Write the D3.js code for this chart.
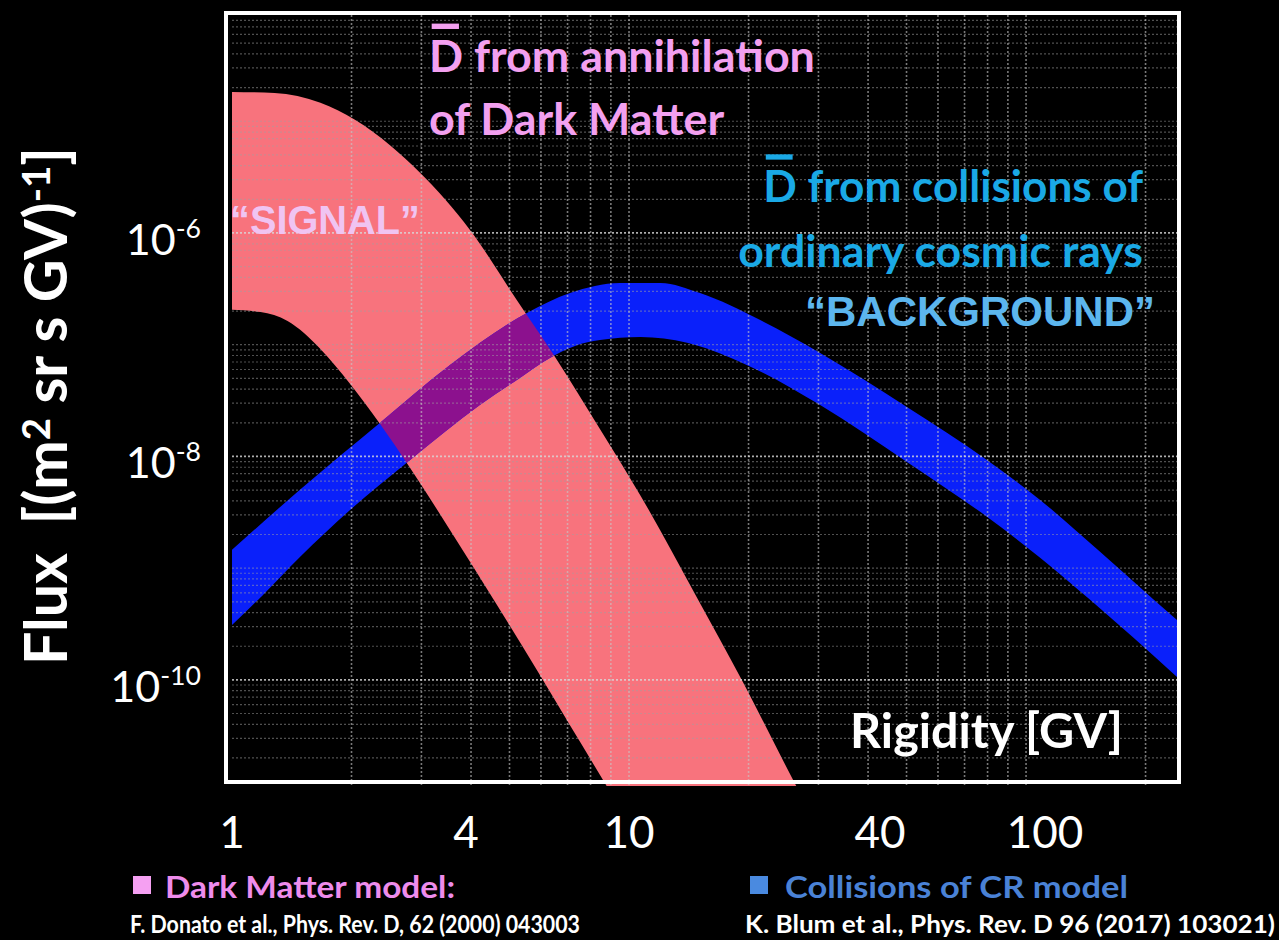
<!DOCTYPE html>
<html><head><meta charset="utf-8">
<script src="https://cdn.jsdelivr.net/npm/d3@7"></script>
<style>
html,body{margin:0;padding:0;background:#000;}
svg{display:block;}
</style></head><body>
<svg id="chart" width="1279" height="940"></svg>
<script>
// ---------------- DATA ----------------
// Dark Matter band (signal) – upper and lower edges
const dmUpperRigidity = [1, 1.28, 1.67, 2.04, 2.5, 2.98, 3.98, 5.22, 6.44, 8.6, 10.7, 14.8, 19.4, 25.9, 32.1];
const dmUpperFlux     = [1.83e-5, 1.79e-5, 1.46e-5, 1.03e-5, 6.1e-6, 3.44e-6, 1.06e-6, 2.5e-7, 8.26e-8, 1.59e-8, 4.43e-9, 5.53e-10, 9.4e-11, 1.27e-11, 3.0e-12];
const dmLowerRigidity = [1, 1.18, 1.38, 1.67, 1.98, 2.36, 2.81, 3.54, 4.65, 5.87, 7.10, 8.6, 9.22];
const dmLowerFlux     = [2.05e-7, 1.96e-7, 1.63e-7, 9.16e-8, 4.50e-8, 1.95e-8, 7.89e-9, 2.20e-9, 4.69e-10, 1.21e-10, 3.92e-11, 1.27e-11, 8.4e-12];
// Cosmic-ray collisions band (background)
const crUpperRigidity = [1, 1.48, 2.36, 3.54, 5.53, 7.1, 9.49, 12.0, 15.1, 21.4, 30.3, 50.1, 79.7, 108.5, 153.6, 208.8, 240];
const crUpperFlux     = [1.46e-9, 5.0e-9, 2.0e-8, 6.59e-8, 1.92e-7, 2.90e-7, 3.57e-7, 3.57e-7, 2.90e-7, 1.66e-7, 8.44e-8, 2.77e-8, 9.3e-9, 4.08e-9, 1.40e-9, 5.3e-10, 3.44e-10];
const crLowerRigidity = [1, 1.197, 1.483, 1.983, 2.81, 4.21, 5.31, 6.32, 7.31, 8.45, 10.7, 14.0, 19.05, 30.3, 50.1, 79.7, 108.5, 145, 240];
const crLowerFlux     = [3.10e-10, 5.76e-10, 1.26e-9, 3.32e-9, 9.3e-9, 2.89e-8, 5.04e-8, 7.61e-8, 9.75e-8, 1.10e-7, 1.17e-7, 1.04e-7, 7.01e-8, 2.89e-8, 8.93e-9, 2.88e-9, 1.24e-9, 5.2e-10, 1.06e-10];

const xTickValues = [1, 4, 10, 40, 100];
const xTickLabels = ["1", "4", "10", "40", "100"];
const yTickValues = [1e-6, 1e-8, 1e-10];
const yTickExponents = ["-6", "-8", "-10"];
const xGridValues = [2,3,4,5,6,7,8,9,10,20,30,40,50,60,70,80,90,100,200];
const yDecades = [-12,-11,-10,-9,-8,-7,-6,-5,-4];
const yMajorGrid = [1e-6, 1e-8, 1e-10];

const xDomain = [1, 240];
const yDomain = [1.27e-11, 8.93e-5];

// ---------------- LAYOUT ----------------
const svg = d3.select("#chart");
const L = 232, R = 1177, T = 15, B = 780;
const xLabelNudge = [0, -5, 0, 12, 19];
const x = d3.scaleLog().domain(xDomain).range([L, R]);
const y = d3.scaleLog().domain(yDomain).range([B, T]);

svg.append("rect").attr("width",1279).attr("height",940).attr("fill","#000");

const defs = svg.append("defs");
defs.append("clipPath").attr("id","plotClip").append("rect")
  .attr("x",L).attr("y",T).attr("width",R-L).attr("height",B-T+6);

const line = d3.line().x(d=>x(d[0])).y(d=>y(d[1])).curve(d3.curveMonotoneX);
function bandPath(ur, uf, lr, lf){
  const up = ur.map((r,i)=>[r,uf[i]]);
  const lo = lr.map((r,i)=>[r,lf[i]]).reverse();
  return line(up) + line(lo).replace(/^M/,"L") + "Z";
}
const dmPath = bandPath(dmUpperRigidity, dmUpperFlux, dmLowerRigidity, dmLowerFlux);
const crPath = bandPath(crUpperRigidity, crUpperFlux, crLowerRigidity, crLowerFlux);

defs.append("clipPath").attr("id","dmClip").append("path").attr("d", dmPath);

const plot = svg.append("g").attr("clip-path","url(#plotClip)");
plot.append("path").attr("d", dmPath).attr("fill","#f8737d");
plot.append("path").attr("d", crPath).attr("fill","#0a20fa");
plot.append("g").attr("clip-path","url(#dmClip)")
  .append("path").attr("d", crPath).attr("fill","#8c118e");

// grid
const grid = plot.append("g");
const yMinor = [];
yDecades.forEach(e=>{ for(let m=1;m<=9;m++){ const v=m*Math.pow(10,e); if(v>=yDomain[0]&&v<=yDomain[1]) yMinor.push(v);} });
grid.selectAll(".hminor").data(yMinor.filter(v=>!yMajorGrid.some(m=>Math.abs(m-v)/m<1e-6))).join("line")
  .attr("x1",L).attr("x2",R).attr("y1",d=>y(d)).attr("y2",d=>y(d))
  .attr("stroke","#a0a0a0").attr("stroke-opacity",0.5).attr("stroke-width",1.2).attr("stroke-dasharray","2,2");
grid.selectAll(".vgrid").data(xGridValues).join("line")
  .attr("x1",d=>x(d)).attr("x2",d=>x(d)).attr("y1",T).attr("y2",B+6)
  .attr("stroke","#c8c8c8").attr("stroke-opacity",0.6).attr("stroke-width",1.6).attr("stroke-dasharray","2,2");
grid.selectAll(".hmajor").data(yMajorGrid).join("line")
  .attr("x1",L-12).attr("x2",R).attr("y1",d=>y(d)).attr("y2",d=>y(d))
  .attr("stroke","#d8d8d8").attr("stroke-opacity",0.8).attr("stroke-width",1.8).attr("stroke-dasharray","2,2");

// frame
svg.append("rect").attr("x",L-6).attr("y",T-2).attr("width",R-L+8).attr("height",B-T+4)
  .attr("fill","none").attr("stroke","#fff").attr("stroke-width",4);

// helpers
function fit(sel, width){
  const w = sel.node().getComputedTextLength();
  const fs = parseFloat(sel.attr("font-size"));
  sel.attr("font-size", fs*width/w);
  return sel;
}
function squeeze(sel, width){
  sel.attr("textLength", width).attr("lengthAdjust","spacingAndGlyphs");
  return sel;
}
const F = "Lato, 'Open Sans', sans-serif";

// x tick labels
svg.append("g").selectAll("text").data(xTickValues).join("text")
  .attr("x",(d,i)=>x(d)+xLabelNudge[i]).attr("y",848).attr("text-anchor","middle")
  .attr("font-family",F).attr("font-size",44).attr("fill","#fff")
  .text((d,i)=>xTickLabels[i]);

// y tick labels
const yt = svg.append("g").selectAll("text").data(yTickValues).join("text")
  .attr("x",201).attr("y",d=>y(d)+22).attr("text-anchor","end")
  .attr("font-family",F).attr("font-size",43).attr("fill","#fff");
yt.append("tspan").text("10");
yt.append("tspan").attr("dy",-17).attr("font-size","62%").text((d,i)=>yTickExponents[i]);

// y axis title
const yTitle = svg.append("text").attr("transform","translate(67,406) rotate(-90)")
  .attr("text-anchor","middle").attr("font-family",F).attr("font-weight","bold")
  .attr("font-size",46).attr("fill","#fff");
yTitle.append("tspan").text("Flux\u00a0\u00a0[(m");
yTitle.append("tspan").attr("dy",-17).attr("font-size","65%").text("2");
yTitle.append("tspan").attr("dy",17).text(" sr s GV)");
yTitle.append("tspan").attr("dy",-17).attr("font-size","65%").text("-1");
yTitle.append("tspan").attr("dy",17).text("]");
fit(yTitle, 518);

// annotation with overbar on D
function barText(xx, yy, str, color, width, anchor){
  const t = svg.append("text").attr("x",xx).attr("y",yy).attr("text-anchor",anchor||"start")
    .attr("font-family",F).attr("font-weight","bold").attr("font-size",40).attr("fill",color).text(str);
  fit(t, width);
  const ext = t.node().getExtentOfChar(0);
  const fs = parseFloat(t.attr("font-size"));
  svg.append("rect").attr("x",ext.x+fs*0.06).attr("y",yy-fs*1.08).attr("width",ext.width*0.8).attr("height",fs*0.12).attr("fill",color);
  return t;
}
const dm1 = barText(429, 72, "D from annihilation", "#f3a0f0", 386);
svg.append("text").attr("x",429).attr("y",135).attr("font-family",F).attr("font-weight","bold")
  .attr("font-size",dm1.attr("font-size")).attr("fill","#f3a0f0").text("of Dark Matter");

const cr2 = svg.append("text").attr("x",1143).attr("y",267).attr("text-anchor","end")
  .attr("font-family",F).attr("font-weight","bold").attr("font-size",40).attr("fill","#1aa9e6").text("ordinary cosmic rays");
fit(cr2, 405);
barText(1143, 202, "D from collisions of", "#1aa9e6", 380, "end");

fit(svg.append("text").attr("x",230).attr("y",234).attr("font-family","'Liberation Sans', Arial, sans-serif")
  .attr("font-weight","bold").attr("font-size",40).attr("fill","#f0c4f2").text("\u201cSIGNAL\u201d"), 190);
fit(svg.append("text").attr("x",1155).attr("y",326).attr("text-anchor","end").attr("font-family","'Liberation Sans', Arial, sans-serif")
  .attr("font-weight","bold").attr("font-size",40).attr("fill","#5cb6ee").text("\u201cBACKGROUND\u201d"), 350);

squeeze(svg.append("text").attr("x",850).attr("y",748).attr("font-family",F).attr("font-weight","bold")
  .attr("font-size",48).attr("fill","#fff").text("Rigidity [GV]"), 273);

// legend
svg.append("rect").attr("x",133).attr("y",876).attr("width",18).attr("height",18).attr("fill","#f5a0f2");
squeeze(svg.append("text").attr("x",165).attr("y",898).attr("font-family",F).attr("font-weight","bold")
  .attr("font-size",30).attr("fill","#ee8cec").text("Dark Matter model:"), 290);
squeeze(svg.append("text").attr("x",130).attr("y",933).attr("font-family",F).attr("font-weight","bold")
  .attr("font-size",25).attr("fill","#fff").text("F. Donato et al., Phys. Rev. D, 62 (2000) 043003"), 450);
svg.append("rect").attr("x",750).attr("y",876).attr("width",18).attr("height",18).attr("fill","#4a8ae0");
squeeze(svg.append("text").attr("x",785).attr("y",898).attr("font-family",F).attr("font-weight","bold")
  .attr("font-size",30).attr("fill","#4a82d6").text("Collisions of CR model"), 343);
squeeze(svg.append("text").attr("x",745).attr("y",933).attr("font-family",F).attr("font-weight","bold")
  .attr("font-size",25).attr("fill","#fff").text("K. Blum et al., Phys. Rev. D 96 (2017) 103021)"), 530);
</script>
</body></html>
